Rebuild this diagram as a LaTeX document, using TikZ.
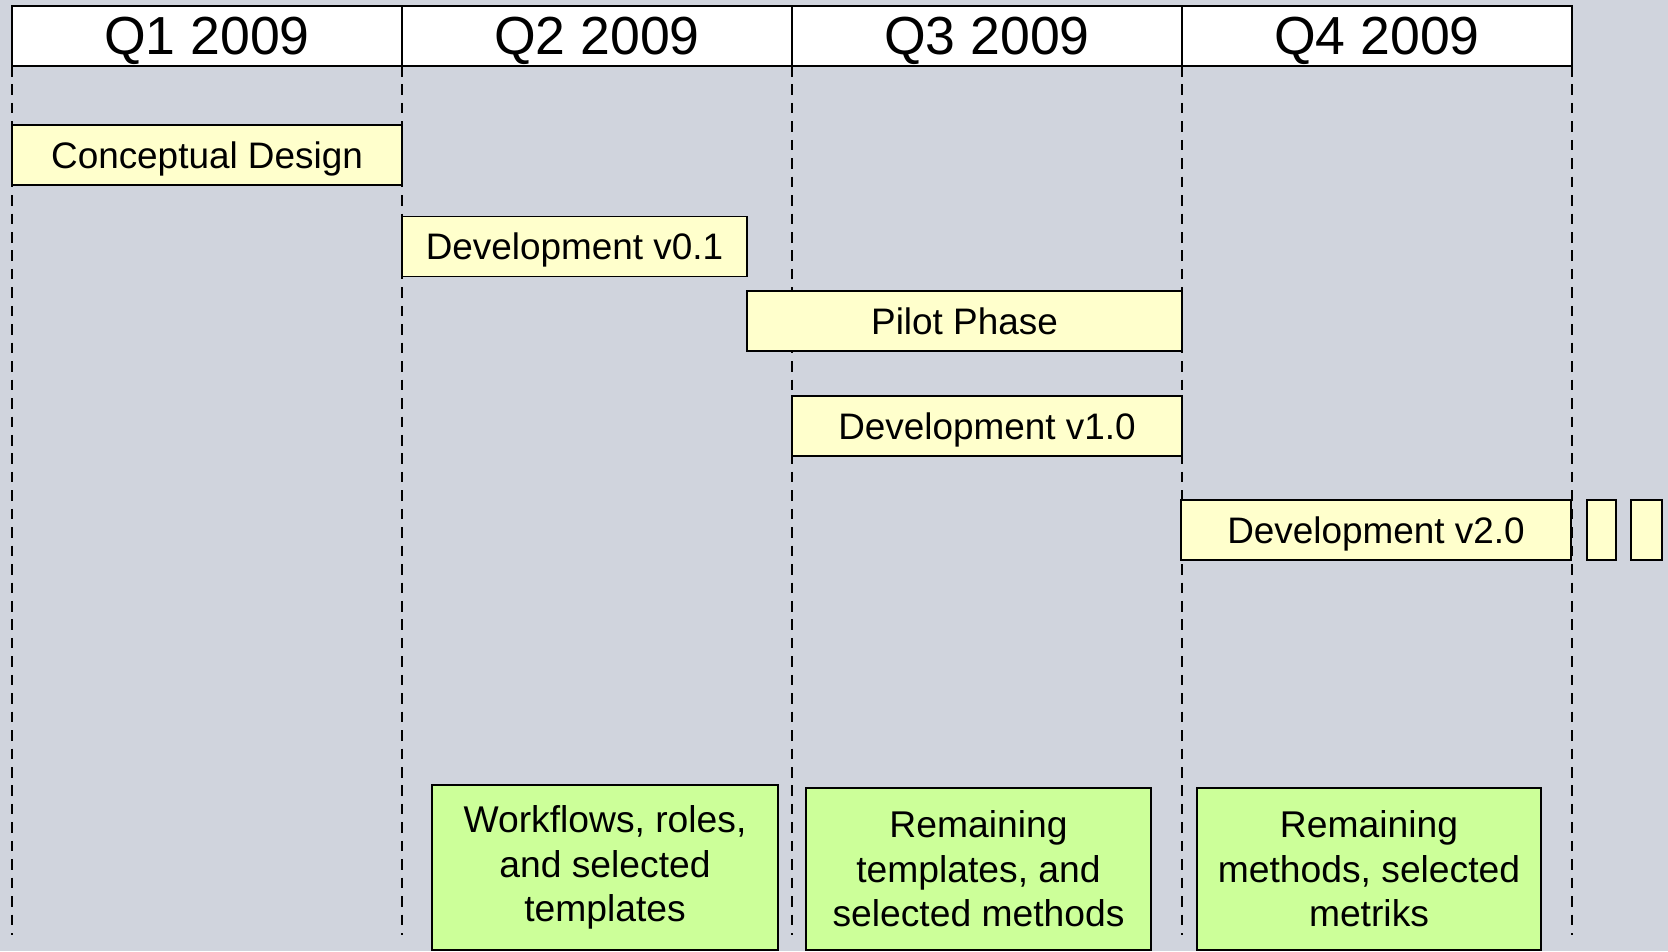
\documentclass[tikz,border=0pt]{standalone}
\usepackage{fontspec}
\setmainfont{Liberation Sans}

\definecolor{chartbg}{HTML}{D0D4DD}
\definecolor{taskfill}{HTML}{FFFFCC}
\definecolor{notefill}{HTML}{CCFF99}

\tikzset{
	quarter/.style={draw,fill=white,line width=1.1pt,inner sep=0,outer sep=0,minimum width=7.8cm,minimum height=1.2cm,text height=21.5pt,text depth=0pt,font=\fontsize{30.5}{36}\selectfont},
	task/.style={draw,fill=taskfill,line width=1.1pt,inner sep=0,outer sep=0,minimum height=1.2cm,text height=15pt,text depth=0pt,font=\fontsize{21}{25}\selectfont},
	note/.style={draw,fill=notefill,line width=1.1pt,inner sep=0,outer sep=0,align=center,font=\fontsize{21.2}{25.3}\selectfont},
	guide/.style={line width=1.1pt,dash pattern=on 6pt off 4.5pt}
}

\begin{document}
\begin{tikzpicture}[x=0.02cm,y=-0.02cm]
	\fill[chartbg] (0,0) rectangle (1668,951);
	% quarters
	\node[quarter] (q1) at (207,36) {Q1 2009};
	\node[quarter] (q2) at (597,36) {Q2 2009};
	\node[quarter] (q3) at (987,36) {Q3 2009};
	\node[quarter] (q4) at (1377,36) {Q4 2009};
	\coordinate (bottom) at (0,935);
	\draw[guide] (q1.south west) -- (q1.south west |- bottom);
	\draw[guide] (q2.south west) -- (q2.south west |- bottom);
	\draw[guide] (q3.south west) -- (q3.south west |- bottom);
	\draw[guide] (q4.south west) -- (q4.south west |- bottom);
	\draw[guide] (q4.south east) -- (q4.south east |- bottom);
	% tasks
	\node[task,minimum width=7.8cm] (design) at (207,155) {Conceptual Design};
	\node[task,minimum width=6.9cm] (dev01) at (574.5,246.5) {Development v0.1};
	\node[task,minimum width=8.7cm] (pilot) at (964.5,321) {Pilot Phase};
	\node[task,minimum width=7.8cm] (dev10) at (987,426) {Development v1.0};
	\node[task,minimum width=7.8cm] (dev20) at (1376,530) {Development v2.0};
	\node[task,minimum width=0.58cm] (more1) at (1601.5,530) {};
	\node[task,minimum width=0.62cm] (more2) at (1646.5,530) {};
	% notes
	\node[note,minimum width=6.92cm,minimum height=3.3cm] (note1) at (605,867.5) {Workflows, roles,\\and selected\\templates};
	\node[note,minimum width=6.9cm,minimum height=3.24cm] (note2) at (978.5,869) {Remaining\\templates, and\\selected methods};
	\node[note,minimum width=6.88cm,minimum height=3.24cm] (note3) at (1369,869) {Remaining\\methods, selected\\metriks};
\end{tikzpicture}
\end{document}
